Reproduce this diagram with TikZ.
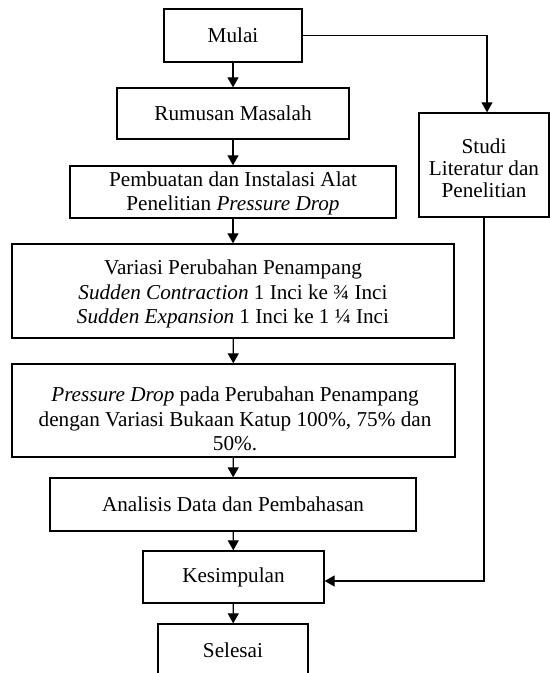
\documentclass[tikz,border=0pt]{standalone}
\usepackage{fontspec}
\setmainfont{Liberation Serif}
\usetikzlibrary{arrows.meta}

\begin{document}
\begin{tikzpicture}[x=0.5pt,y=-0.5pt,
    proses/.style={draw, line width=0.65pt, align=center, inner sep=0pt,
      font=\fontsize{10.6}{12.2}\selectfont},
    teks/.style={align=center, inner sep=0pt, font=\fontsize{10.6}{12.2}\selectfont},
    panah/.style={line width=0.6pt, -{Triangle[length=5pt,width=5.5pt]}}]
        \clip (0,0) rectangle (550,673);
        \useasboundingbox (0,0) rectangle (550,673);

        \node[proses, minimum width=69pt, minimum height=26.5pt] (mulai) at (233,35.5) {Mulai};
        \node[proses, minimum width=116pt, minimum height=25.5pt] (rumusan) at (233,113.5) {Rumusan Masalah};
        \node[proses, minimum width=163pt, minimum height=26pt] (alat) at (233,192) {};
        \node[teks] (alatteks) at (233,193.5) {Pembuatan dan Instalasi Alat\\Penelitian \textit{Pressure Drop}};
        \node[proses, minimum width=221pt, minimum height=47pt] (variasi) at (233,291) {};
        \node[teks] (variasiteks) at (233,294)
            {Variasi Perubahan Penampang\\\textit{Sudden Contraction} 1 Inci ke ¾ Inci\\\textit{Sudden Expansion} 1 Inci ke 1 ¼ Inci};
        \node[proses, minimum width=221.5pt, minimum height=46.5pt] (katup) at (233.5,410.5) {};
        \node[teks] (katupteks) at (235,419)
            {\textit{Pressure Drop} pada Perubahan Penampang\\dengan Variasi Bukaan Katup 100\%, 75\% dan\\50\%.};
        \node[proses, minimum width=183pt, minimum height=26.5pt] (analisis) at (233,504.5) {Analisis Data dan Pembahasan};
        \node[proses, minimum width=90.5pt, minimum height=26pt] (kesimpulan) at (233.5,577) {Kesimpulan};
        \node[proses, minimum width=75pt, minimum height=26.5pt] (selesai) at (233,650.5) {Selesai};
        \node[proses, minimum width=65pt, minimum height=52pt] (studi) at (484,165) {};
        \node[teks, font=\fontsize{10.6}{11}\selectfont] (studiteks) at (484,168) {Studi\\Literatur dan\\Penelitian};

        \draw[panah] (mulai) -- (rumusan);
        \draw[panah] (rumusan) -- (alat);
        \draw[panah] (alat) -- (variasi);
        \draw[panah] (variasi) -- (katup);
        \draw[panah] (katup) -- (analisis);
        \draw[panah] (analisis) -- (kesimpulan);
        \draw[panah] (kesimpulan) -- (selesai);
        \draw[panah] (mulai.east) -| ([xshift=1.5pt]studi.north);
        \draw[panah] (studi.south) |- ([yshift=-2pt]kesimpulan.east);
      \end{tikzpicture}
\end{document}
